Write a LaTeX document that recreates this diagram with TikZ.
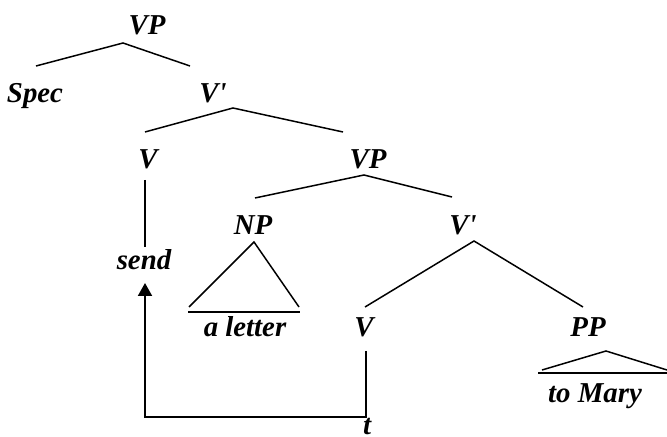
\documentclass[tikz,border=0pt]{standalone}
\usepackage{fontspec}
\setmainfont{Liberation Serif}
\usetikzlibrary{arrows.meta}
\tikzstyle{cat}=[inner sep=0pt, anchor=base, font=\fontsize{16.4}{18}\selectfont\bfseries\itshape]
\tikzstyle{branch}=[line width=0.85pt]
\tikzstyle{base}=[line width=1.4pt]

\begin{document}
\begin{tikzpicture}
      \useasboundingbox (0,0) rectangle (13.34,8.72);
      % labels
      \node[cat] (VP1) at (2.94,8.02) {VP};
      \node[cat] (Spec) at (0.70,6.66) {Spec};
      \node[cat] (Vbar1) at (4.26,6.66) {V\textquotesingle};
      \node[cat] (V1) at (2.96,5.34) {V};
      \node[cat] (VP2) at (7.36,5.34) {VP};
      \node[cat] (send) at (2.88,3.32) {send};
      \node[cat] (NP) at (5.06,4.02) {NP};
      \node[cat] (Vbar2) at (9.26,4.02) {V\textquotesingle};
      \node[cat] (letter) at (4.90,1.98) {a letter};
      \node[cat] (V2) at (7.28,1.98) {V};
      \node[cat] (PP) at (11.76,1.98) {PP};
      \node[cat] (Mary) at (11.90,0.66) {to Mary};
      \node[cat] (t) at (7.34,0.03) {t};
      % branch points
      \coordinate (VP1-b) at (2.46,7.86);
      \coordinate (Spec-t) at (0.72,7.40);
      \coordinate (Vbar1-t) at (3.80,7.40);
      \coordinate (Vbar1-b) at (4.66,6.56);
      \coordinate (V1-t) at (2.90,6.08);
      \coordinate (VP2-t) at (6.86,6.08);
      \coordinate (VP2-b) at (7.28,5.22);
      \coordinate (NP-t) at (5.10,4.76);
      \coordinate (Vbar2-t) at (9.04,4.78);
      \coordinate (Vbar2-b) at (9.48,3.90);
      \coordinate (V2-t) at (7.30,2.58);
      \coordinate (PP-t) at (11.66,2.58);
      \coordinate (NP-b) at (5.08,3.88);
      \coordinate (PP-b) at (12.12,1.70);
      \coordinate (V1-b) at (2.90,5.12);
      \coordinate (send-t) at (2.90,3.78);
      \coordinate (send-b) at (2.90,3.06);
      \coordinate (V2-b) at (7.32,1.70);
      \coordinate (t-t) at (7.32,0.38);
      % tree
      \draw [branch] (Spec-t) -- (VP1-b) -- (Vbar1-t);
      \draw [branch] (V1-t) -- (Vbar1-b) -- (VP2-t);
      \draw [branch] (NP-t) -- (VP2-b) -- (Vbar2-t);
      \draw [branch] (V2-t) -- (Vbar2-b) -- (PP-t);
      \draw [branch] (3.78,2.58) -- (NP-b) -- (5.98,2.58);
      \draw [base] (3.76,2.48) -- (6.00,2.48);
      \draw [branch] (10.84,1.32) -- (PP-b) -- (13.34,1.32);
      \draw [base] (10.76,1.26) -- (13.34,1.26);
      \draw [line width=1.1pt] (V1-b) -- (send-t);
      % movement
      \draw [line width=1.1pt,->,>={Triangle[length=0.26cm,width=0.28cm]}] (V2-b) -- (t-t) -| (send-b);
    \end{tikzpicture}
\end{document}
